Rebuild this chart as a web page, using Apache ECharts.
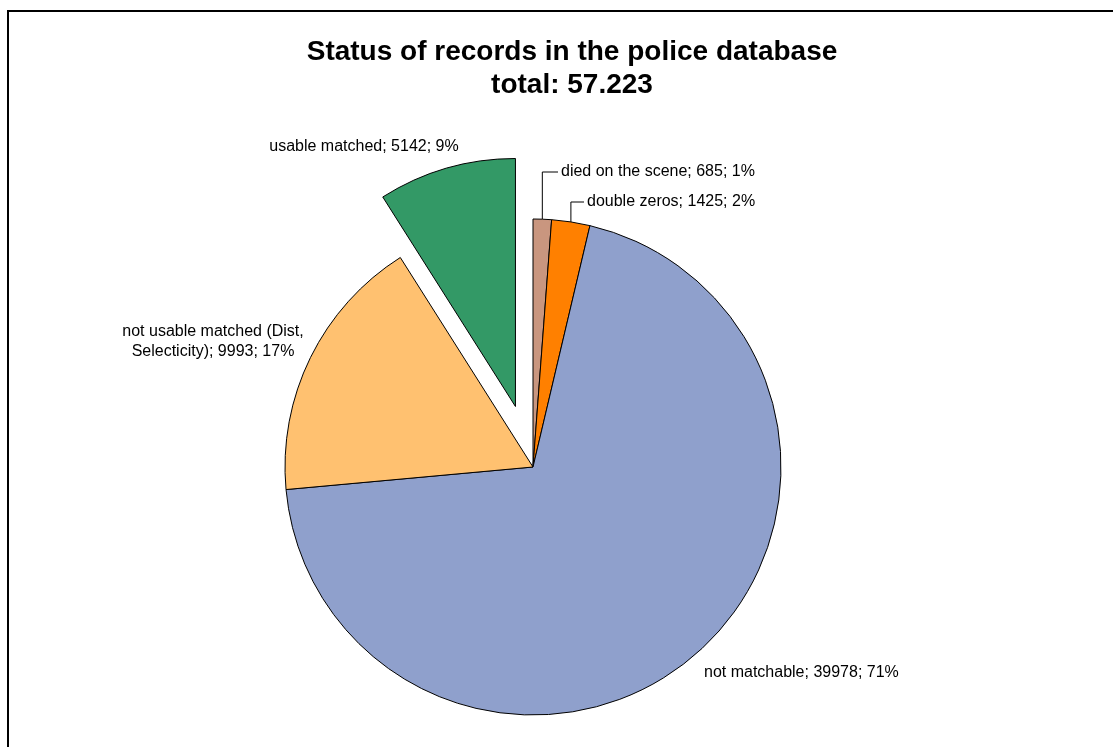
<!DOCTYPE html>
<html>
<head>
<meta charset="utf-8">
<script src="https://cdn.jsdelivr.net/npm/echarts@6/dist/echarts.min.js"></script>
<style>
html,body{margin:0;padding:0;background:#fff;}
#c{width:1113px;height:747px;}
</style>
</head>
<body>
<div id="c"></div>
<script>
var categories = ['died on the scene', 'double zeros', 'not matchable', 'not usable matched (Dist, Selecticity)', 'usable matched'];
var values = [685, 1425, 39978, 9993, 5142];
var percentLabels = [1, 2, 71, 17, 9];
var colors = ['#C9967F', '#FF8000', '#8FA0CC', '#FFC170', '#339966'];
var titleText = 'Status of records in the police database\ntotal: 57.223';

var CX = 533, CY = 467, R = 248;
var EXPLODED = 4;
var total = values.reduce(function(a, b){ return a + b; }, 0);
var FONT = 'Liberation Sans, Arial';

// label placement (layout only)
var labelPos = [
  {x: 561, y: 172, align: 'left', line: true, elbowY: 172, endX: 558},
  {x: 587, y: 202, align: 'left', line: true, elbowY: 202, endX: 584},
  {x: 704, y: 673, align: 'left', line: false},
  {x: 213, y: 342, align: 'center', line: false},
  {x: 364, y: 147, align: 'center', line: false}
];

function labelText(i) {
  return categories[i].replace(', ', ',\n') + '; ' + values[i] + '; ' + percentLabels[i] + '%';
}

function midPoint(i) {
  var before = 0;
  for (var k = 0; k < i; k++) before += values[k];
  var a = (before + values[i] / 2) / total * 2 * Math.PI;
  return [CX + R * Math.sin(a), CY - R * Math.cos(a)];
}

var data = categories.map(function(n, i){
  return {
    name: n,
    value: values[i],
    selected: i === EXPLODED,
    itemStyle: {color: colors[i]},
    label: {show: i !== EXPLODED},
    labelLine: {show: labelPos[i].line}
  };
});

var chart = echarts.init(document.getElementById('c'), null, {renderer: 'canvas'});
chart.setOption({
  animation: false,
  backgroundColor: '#fff',
  title: {
    text: titleText,
    left: 567,
    top: 31,
    textAlign: 'center',
    textStyle: {fontFamily: FONT, fontSize: 28, fontWeight: 'bold', color: '#000', lineHeight: 33}
  },
  graphic: [{
    type: 'rect',
    shape: {x: 8, y: 11, width: 1200, height: 800},
    style: {fill: 'none', stroke: '#000', lineWidth: 2},
    silent: true
  }, {
    type: 'text',
    x: labelPos[EXPLODED].x,
    y: labelPos[EXPLODED].y,
    silent: true,
    style: {
      text: labelText(EXPLODED),
      fill: '#000',
      font: '16px ' + FONT,
      align: 'center',
      verticalAlign: 'middle'
    }
  }],
  series: [{
    type: 'pie',
    center: [CX, CY],
    radius: R,
    startAngle: 90,
    clockwise: true,
    selectedMode: 'single',
    selectedOffset: 63,
    avoidLabelOverlap: false,
    itemStyle: {borderColor: '#000', borderWidth: 1},
    emphasis: {disabled: true},
    label: {
      show: true,
      position: 'outside',
      fontFamily: FONT,
      fontSize: 16,
      lineHeight: 20,
      color: '#000',
      formatter: function(p){ return labelText(p.dataIndex); }
    },
    labelLine: {show: true, lineStyle: {color: '#000', width: 1}, length: 10, length2: 10},
    labelLayout: function(params){
      var i = params.dataIndex;
      var lp = labelPos[i];
      var res = {x: lp.x, y: lp.y, align: lp.align, verticalAlign: 'middle'};
      if (lp.line) {
        var m = midPoint(i);
        res.labelLinePoints = [m, [m[0], lp.elbowY], [lp.endX, lp.elbowY]];
      }
      return res;
    },
    data: data
  }]
});
</script>
</body>
</html>
